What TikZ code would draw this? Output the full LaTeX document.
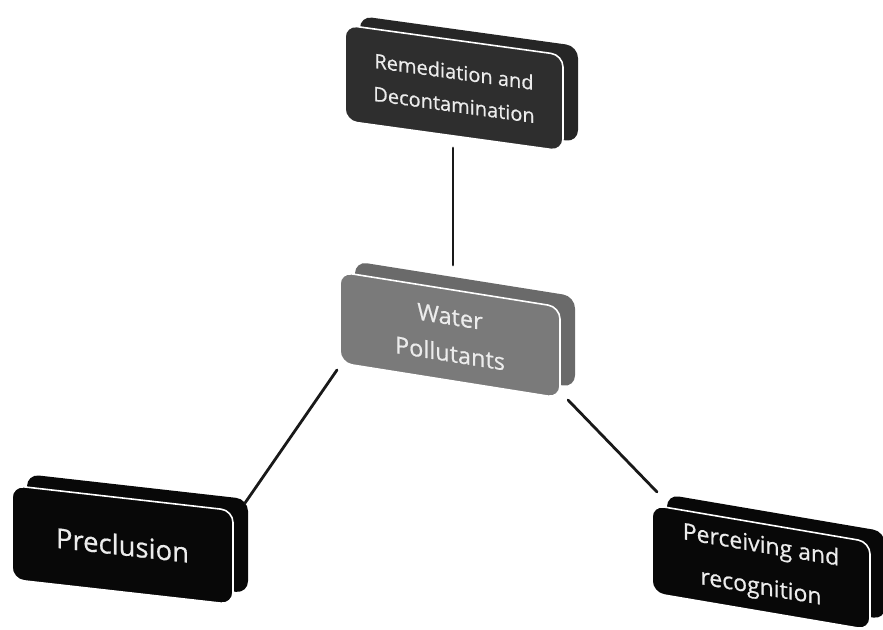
\documentclass[tikz,border=0pt]{standalone}
\usepackage{fontspec}
\setmainfont{Open Sans}[FakeBold=0.6]
\definecolor{topc}{HTML}{2E2E2E}
\definecolor{topb}{HTML}{262626}
\definecolor{midc}{HTML}{7A7A7A}
\definecolor{midb}{HTML}{6A6A6A}
\definecolor{blk}{HTML}{080808}
\definecolor{txt}{HTML}{ECECEC}
\begin{document}
\begin{tikzpicture}[x=1pt,y=1pt,
  backbox/.style={rounded corners=12pt, inner sep=0pt},
  frontbox/.style={rounded corners=12pt, draw=white, line width=1.6pt, text=txt, align=center, inner sep=0pt},
  link/.style={line width=2.8pt, line cap=round, draw=black!90}]
\useasboundingbox (0,0) rectangle (883,629);
% top box
\begin{scope}[shift={(454,539)}, yslant=-0.138, transform shape]
  \node[backbox, fill=topb, minimum width=218pt, minimum height=96pt] (topback) at (15,13) {};
  \node[frontbox, fill=topc, minimum width=218pt, minimum height=96pt, font=\fontsize{20}{33}\selectfont] (top) at (0,2) {Remediation and\\Decontamination};
\end{scope}
% centre box
\begin{scope}[shift={(450,294)}, yslant=-0.159, transform shape]
  \node[backbox, fill=midb, minimum width=220pt, minimum height=91pt] (midback) at (15,13) {};
  \node[frontbox, fill=midc, minimum width=220pt, minimum height=91pt, font=\fontsize{23.5}{37}\selectfont] (mid) at (0,0) {Water\\Pollutants};
\end{scope}
% preclusion
\begin{scope}[shift={(122.5,84)}, yslant=-0.113, transform shape]
  \node[backbox, fill=blk, minimum width=221pt, minimum height=94pt] (preback) at (15,13) {};
  \node[frontbox, fill=blk, minimum width=221pt, minimum height=94pt, font=\fontsize{27.5}{32}\selectfont] (pre) at (0,0) {Preclusion};
\end{scope}
% perceiving
\begin{scope}[shift={(761,61.5)}, yslant=-0.17, transform shape]
  \node[backbox, fill=blk, minimum width=218pt, minimum height=88pt] (perback) at (15,13) {};
  \node[frontbox, fill=blk, minimum width=218pt, minimum height=88pt, font=\fontsize{23}{42}\selectfont] (per) at (0,0) {Perceiving and\\recognition};
\end{scope}
% connectors
\coordinate (topend) at (453,481);
\coordinate (midtop) at (453,364);
\coordinate (midbl) at (337,259);
\coordinate (pretr) at (245,126);
\coordinate (midbr) at (568,229);
\coordinate (pertl) at (657,137);
\draw[link] (topend) -- (midtop);
\draw[link] (midbl) -- (pretr);
\draw[link] (midbr) -- (pertl);
\end{tikzpicture}
\end{document}
